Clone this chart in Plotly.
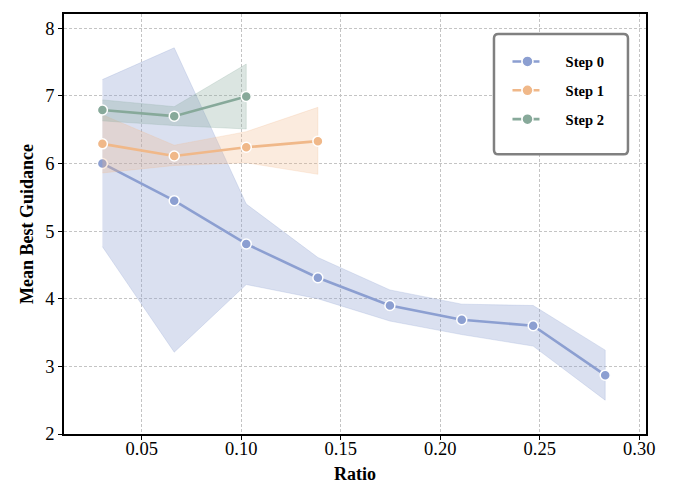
import plotly.graph_objects as go

# ---- data ----
ratio = [0.0302, 0.0663, 0.1025, 0.1385, 0.1747, 0.2108, 0.2467, 0.2829]

step0_mean = [6.00, 5.45, 4.81, 4.31, 3.90, 3.69, 3.60, 2.87]
step0_hi = [7.24, 7.71, 5.40, 4.61, 4.13, 3.92, 3.90, 3.24]
step0_lo = [4.77, 3.21, 4.21, 4.00, 3.67, 3.47, 3.30, 2.50]

step1_mean = [6.29, 6.11, 6.24, 6.33]
step1_hi = [6.72, 6.27, 6.47, 6.83]
step1_lo = [5.86, 5.97, 6.01, 5.84]

step2_mean = [6.79, 6.70, 6.99]
step2_hi = [6.94, 6.84, 7.47]
step2_lo = [6.63, 6.56, 6.51]

names = ["Step 0", "Step 1", "Step 2"]
colors = ["#8c9fd1", "#f0b889", "#87a99a"]
fills = ["rgba(140,159,209,0.32)", "rgba(240,184,137,0.28)", "rgba(135,169,154,0.30)"]

x_ticks = [0.05, 0.10, 0.15, 0.20, 0.25, 0.30]
y_ticks = [2, 3, 4, 5, 6, 7, 8]

series = [
    (step0_mean, step0_hi, step0_lo),
    (step1_mean, step1_hi, step1_lo),
    (step2_mean, step2_hi, step2_lo),
]

FONT = "Liberation Serif"
NBSP = "\u00a0"
fig = go.Figure()

for i, (m, hi, lo) in enumerate(series):
    xs = ratio[: len(m)]
    fig.add_trace(go.Scatter(
        x=xs + xs[::-1], y=hi + lo[::-1], fill="toself", mode="lines",
        line=dict(width=0.8, color=fills[i]), fillcolor=fills[i],
        hoverinfo="skip", showlegend=False))
    fig.add_trace(go.Scatter(
        x=xs, y=m, mode="lines+markers", name=names[i], showlegend=False,
        line=dict(color=colors[i], width=2.6),
        marker=dict(size=10, color=colors[i], line=dict(color="white", width=1.5))))

# legend entries
for i in range(3):
    fig.add_trace(go.Scatter(
        x=[None], y=[None], mode="lines+markers", name=NBSP * 5 + names[i],
        legendgroup=names[i],
        line=dict(color=colors[i], width=2.6, dash="dash"),
        marker=dict(size=11, color=colors[i], line=dict(color="white", width=1.5))))

# rounded legend frame (paper coords)
x0, x1 = 0.7388, 0.969
y0, y1 = 0.666, 0.9526
rx, ry = 0.0075, 0.0103
path = (f"M{x0+rx},{y1} L{x1-rx},{y1} Q{x1},{y1} {x1},{y1-ry} "
        f"L{x1},{y0+ry} Q{x1},{y0} {x1-rx},{y0} L{x0+rx},{y0} "
        f"Q{x0},{y0} {x0},{y0+ry} L{x0},{y1-ry} Q{x0},{y1} {x0+rx},{y1} Z")
fig.add_shape(type="path", path=path, xref="paper", yref="paper",
              line=dict(color="#808080", width=2.5), fillcolor="white", layer="above")

axis_common = dict(
    showline=True, linecolor="black", linewidth=1.5, mirror=True,
    ticks="outside", ticklen=4, tickwidth=1.2, tickcolor="black",
    showgrid=True, gridcolor="#c4c4c4", gridwidth=1, griddash="3px,2px",
    zeroline=False, tickfont=dict(family=FONT, size=18.5, color="black"),
)

fig.update_xaxes(range=[0.0109, 0.3034], tickvals=x_ticks, tickformat=".2f",
                 ticklabelstandoff=-7,
                 title=dict(text="<b>Ratio</b>", font=dict(family=FONT, size=18, color="black"),
                            standoff=9),
                 **axis_common)
fig.update_yaxes(range=[2.0, 8.21], tickvals=y_ticks,
                 title=dict(text="<b>Mean Best Guidance</b>", font=dict(family=FONT, size=18, color="black"),
                            standoff=7),
                 **axis_common)

fig.update_layout(
    width=700, height=500,
    margin=dict(l=64, r=54, t=12, b=66),
    plot_bgcolor="white", paper_bgcolor="white",
    font=dict(family=FONT, color="black"),
    legend=dict(
        x=0.762, y=0.925, xanchor="left", yanchor="top",
        bgcolor="rgba(0,0,0,0)", borderwidth=0,
        font=dict(family=FONT, size=14.5, color="black", weight="bold"),
        itemwidth=30, tracegroupgap=7,
    ),
)

fig.write_html("out.html")
